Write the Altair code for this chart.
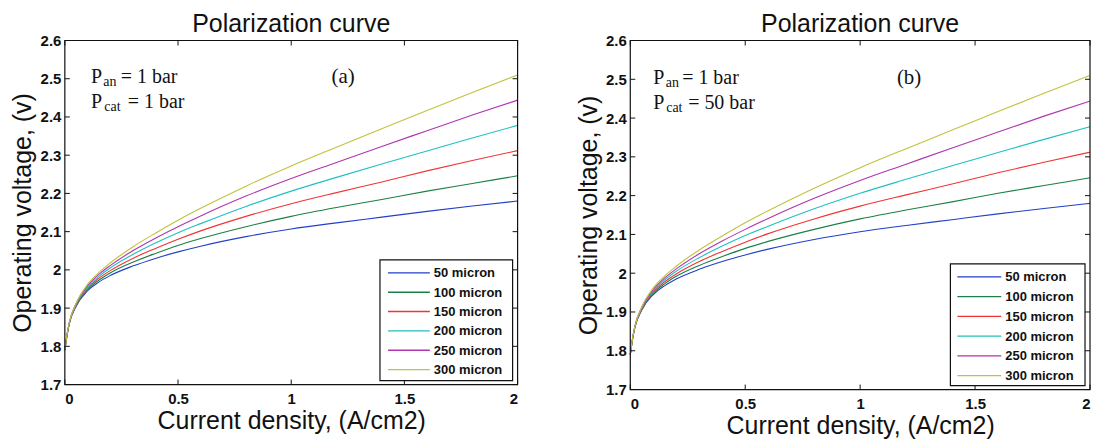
import altair as alt
import pandas as pd

# ---- data ----
current = [0, 0.01, 0.02, 0.05, 0.1, 0.15, 0.2, 0.3, 0.4, 0.5, 0.6, 0.8, 1.0, 1.2, 1.4, 1.6, 1.8, 2.0]
v_50 = [1.790, 1.830, 1.860, 1.905, 1.945, 1.968, 1.985, 2.010, 2.030, 2.047, 2.062, 2.087, 2.107, 2.123, 2.138, 2.153, 2.167, 2.180]
v_100 = [1.790, 1.830, 1.861, 1.907, 1.948, 1.973, 1.992, 2.020, 2.043, 2.064, 2.082, 2.113, 2.140, 2.163, 2.184, 2.206, 2.226, 2.246]
v_150 = [1.790, 1.831, 1.861, 1.908, 1.952, 1.978, 1.998, 2.030, 2.056, 2.080, 2.102, 2.140, 2.173, 2.202, 2.230, 2.259, 2.286, 2.312]
v_200 = [1.790, 1.831, 1.862, 1.910, 1.955, 1.983, 2.005, 2.040, 2.070, 2.097, 2.121, 2.166, 2.206, 2.242, 2.277, 2.311, 2.345, 2.378]
v_250 = [1.790, 1.831, 1.863, 1.912, 1.958, 1.988, 2.011, 2.050, 2.083, 2.113, 2.141, 2.193, 2.239, 2.281, 2.323, 2.364, 2.405, 2.444]
v_300 = [1.790, 1.832, 1.863, 1.913, 1.962, 1.993, 2.018, 2.060, 2.096, 2.130, 2.161, 2.219, 2.272, 2.321, 2.369, 2.417, 2.464, 2.510]

series_names = ["50 micron", "100 micron", "150 micron", "200 micron", "250 micron", "300 micron"]
series_values = [v_50, v_100, v_150, v_200, v_250, v_300]
colors = ["#2040c8", "#1a8045", "#f03535", "#20c0c0", "#b035b0", "#c2c23c"]

x_ticks = [0, 0.5, 1, 1.5, 2]
y_ticks = [1.7, 1.8, 1.9, 2.0, 2.1, 2.2, 2.3, 2.4, 2.5, 2.6]

panel_letters = ["(a)", "(b)"]
p_an_text = ["= 1 bar", "= 1 bar"]
p_cat_text = ["= 1 bar", "= 50 bar"]

rows = []
for name, vals in zip(series_names, series_values):
    for xv, vv in zip(current, vals):
        rows.append({"x": xv, "v": vv, "series": name})
df = pd.DataFrame(rows)

SANS = "Liberation Sans"
SERIF = "Liberation Serif"
INK = "#111111"

AXIS_STYLE = dict(labelFont=SANS, labelFontSize=15, labelFontWeight="bold", labelColor=INK,
                  titleFont=SANS, titleFontSize=25, titleFontWeight="normal", titleColor=INK,
                  ticks=False, domain=False, grid=False, format="~g")


def panel(idx, W, H, geo):
    xs = alt.Scale(domain=[0, 2], nice=False, zero=False)
    ys = alt.Scale(domain=[1.7, 2.6], nice=False, zero=False)
    xaxis = alt.Axis(values=x_ticks, title="Current density, (A/cm2)",
                     labelPadding=7, titlePadding=2, **AXIS_STYLE)
    yaxis = alt.Axis(values=y_ticks, title="Operating voltage, (v)", labelPadding=4,
                     titleX=-42, titleY=H / 2, titleBaseline="middle", titleAlign="center",
                     **AXIS_STYLE)

    def X(field="x"):
        return alt.X(f"{field}:Q", scale=xs, axis=xaxis)

    def Y(field="v"):
        return alt.Y(f"{field}:Q", scale=ys, axis=yaxis)

    lines = alt.Chart(df).mark_line(strokeWidth=1.1, interpolate="monotone").encode(
        x=X(), y=Y(),
        color=alt.Color("series:N", scale=alt.Scale(domain=series_names, range=colors), legend=None),
    )

    one = pd.DataFrame({"k": [0]})
    frame = alt.Chart(one).mark_rect(fill=None, stroke=INK, strokeWidth=1.2).encode(
        x=alt.value(0), x2=alt.value(W), y=alt.value(0), y2=alt.value(H))

    ydf = pd.DataFrame({"v": y_ticks})
    xdf = pd.DataFrame({"x": x_ticks})
    tl = 5
    tick_layers = [
        alt.Chart(ydf).mark_rule(color=INK, strokeWidth=1).encode(
            y=Y(), x=alt.value(0), x2=alt.value(tl)),
        alt.Chart(ydf).mark_rule(color=INK, strokeWidth=1).encode(
            y=Y(), x=alt.value(W - tl), x2=alt.value(W)),
        alt.Chart(xdf).mark_rule(color=INK, strokeWidth=1).encode(
            x=X(), y=alt.value(H - tl), y2=alt.value(H)),
        alt.Chart(xdf).mark_rule(color=INK, strokeWidth=1).encode(
            x=X(), y=alt.value(0), y2=alt.value(tl)),
    ]

    # annotations
    ax, ay1, ay2 = geo["ann_x"], 2.488, 2.423
    ann = []

    def txt(t, xv, yv, dx, size, align="left", dy=0):
        d = pd.DataFrame({"x": [xv], "v": [yv], "t": [t]})
        return alt.Chart(d).mark_text(align=align, baseline="alphabetic", font=SERIF,
                                      fontSize=size, dx=dx, dy=dy, color=INK).encode(
            x=X(), y=Y(), text="t:N")

    ann.append(txt("P", ax, ay1, 0, 20))
    ann.append(txt("an", ax, ay1, geo["an_dx"], 14, dy=3))
    ann.append(txt(p_an_text[idx], ax, ay1, geo["eq1_dx"], 20))
    ann.append(txt("P", ax, ay2, 0, 20))
    ann.append(txt("cat", ax, ay2, geo["cat_dx"], 14, dy=3))
    ann.append(txt(p_cat_text[idx], ax, ay2, geo["eq2_dx"], 20))
    ann.append(txt(panel_letters[idx], geo["letter_x"], ay1, 0, 21, align="center"))

    # legend box
    leg = [alt.Chart(one).mark_rect(fill="white", stroke=INK, strokeWidth=1.2).encode(
        x=alt.value(geo["bx0"]), x2=alt.value(geo["bx1"]),
        y=alt.value(geo["by0"]), y2=alt.value(geo["by1"]))]
    for i, (name, col) in enumerate(zip(series_names, colors)):
        yy = geo["row0"] + i * geo["step"]
        leg.append(alt.Chart(one).mark_rule(color=col, strokeWidth=1.4).encode(
            x=alt.value(geo["lx0"]), x2=alt.value(geo["lx1"]), y=alt.value(yy)))
        leg.append(alt.Chart(pd.DataFrame({"t": [name]})).mark_text(
            align="left", baseline="middle", font=SANS, fontSize=13, fontWeight="bold",
            color=INK).encode(x=alt.value(geo["tx"]), y=alt.value(yy + 0.5), text="t:N"))

    return alt.layer(lines, frame, *tick_layers, *ann, *leg).properties(
        width=W, height=H,
        title=alt.TitleParams("Polarization curve", font=SANS, fontSize=25,
                              fontWeight="normal", color=INK, offset=-3, anchor="middle"),
    )


geo_a = dict(ann_x=0.115, an_dx=12.5, eq1_dx=30, cat_dx=13.5, eq2_dx=37,
             letter_x=1.229, bx0=316, bx1=449, by0=220, by1=341,
             lx0=324, lx1=366, tx=370, row0=233, step=19.4)
geo_b = dict(ann_x=0.1, an_dx=12.5, eq1_dx=29, cat_dx=13, eq2_dx=35,
             letter_x=1.213, bx0=321, bx1=456, by0=224, by1=346,
             lx0=328, lx1=372, tx=376, row0=237, step=19.8)

left = panel(0, 454, 345, geo_a)
right = panel(1, 461, 350, geo_b)

chart = alt.hconcat(left, right, spacing=56).properties(
    padding={"left": 3, "top": 3, "right": 0, "bottom": 0},
    background="white",
).configure_view(stroke=None)

chart.save("out.html", embed_options={"renderer": "svg", "actions": False})
